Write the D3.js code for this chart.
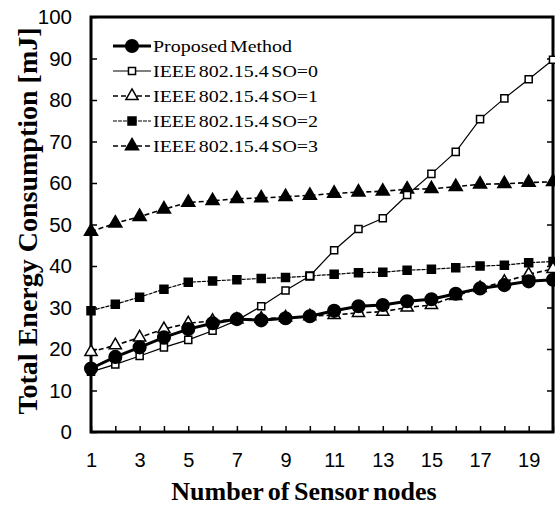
<!DOCTYPE html>
<html>
<head>
<meta charset="utf-8">
<script src="https://cdn.jsdelivr.net/npm/d3@7"></script>
<style>
  body { margin: 0; background: #fff; }
  svg { display: block; font-family: "Liberation Serif", "Times New Roman", serif; }
</style>
</head>
<body>
<svg id="chart" width="555" height="507"></svg>
<script>
// number of sensor nodes
var nodes = d3.range(1, 21);

// energy values (mJ)
var proposed = [15.3, 18.1, 20.4, 22.8, 24.8, 26.2, 27.2, 26.9, 27.4, 27.9, 29.2, 30.3, 30.6, 31.5, 32.0, 33.3, 34.6, 35.4, 36.3, 36.7];
var so0 = [14.5, 16.3, 18.3, 20.4, 22.2, 24.4, 26.9, 30.3, 34.1, 37.6, 43.8, 48.9, 51.5, 57.1, 62.2, 67.5, 75.4, 80.4, 85.0, 89.7];
var so1 = [19.3, 20.9, 22.8, 24.8, 26.2, 26.8, 27.1, 27.3, 27.6, 27.9, 28.2, 28.7, 29.0, 30.0, 30.6, 32.8, 34.7, 36.2, 38.0, 39.3];
var so2 = [29.2, 30.8, 32.5, 34.4, 36.1, 36.4, 36.7, 37.0, 37.2, 37.6, 38.0, 38.4, 38.5, 39.0, 39.2, 39.6, 40.0, 40.2, 40.8, 41.1];
var so3 = [48.3, 50.3, 51.9, 53.7, 55.3, 55.7, 56.2, 56.4, 56.7, 57.0, 57.5, 57.8, 58.0, 58.5, 58.6, 59.1, 59.7, 59.8, 60.1, 60.3];

var seriesNames = ["Proposed Method", "IEEE 802.15.4 SO=0", "IEEE 802.15.4 SO=1", "IEEE 802.15.4 SO=2", "IEEE 802.15.4 SO=3"];
var yTicks = [0, 10, 20, 30, 40, 50, 60, 70, 80, 90, 100];
var xLabels = [1, 3, 5, 7, 9, 11, 13, 15, 17, 19];

var svg = d3.select("#chart");

// plot box (note: "top" is reserved on window, so use plotTop)
var plotLeft = 91, plotRight = 553, plotTop = 17, plotBottom = 432;

var x = d3.scaleLinear().domain([1, 20]).range([plotLeft, plotRight]);
var y = d3.scaleLinear().domain([0, 100]).range([plotBottom, plotTop]);

// style of each series: marker shape, fill, line width, dash
var styles = [
    {data: proposed, symbol: d3.symbolCircle, size: 125, fill: "#000", width: 3, dash: null},
    {data: so0, symbol: d3.symbolSquare, size: 50, fill: "#fff", width: 1.2, dash: null},
    {data: so1, symbol: d3.symbolTriangle, size: 64, fill: "#fff", width: 1.6, dash: "5,3"},
    {data: so2, symbol: d3.symbolSquare, size: 64, fill: "#000", width: 1.2, dash: "4,1"},
    {data: so3, symbol: d3.symbolTriangle, size: 74, fill: "#000", width: 1.6, dash: "5,3"}
];

// y ticks, inside on both sides
var yAxisL = d3.axisLeft(y).tickValues(yTicks).tickSize(-6).tickFormat(d3.format("d")).tickPadding(19);
var gy = svg.append("g").attr("transform", "translate(" + plotLeft + ",0)").call(yAxisL);
gy.select(".domain").remove();
gy.selectAll("line").attr("stroke", "#000").attr("stroke-width", 1.5);
gy.selectAll("text").attr("font-size", 20.5).attr("fill", "#000");

var yAxisR = d3.axisRight(y).tickValues(yTicks.slice(1, 10)).tickSize(-6).tickFormat("");
var gyr = svg.append("g").attr("transform", "translate(" + plotRight + ",0)").call(yAxisR);
gyr.select(".domain").remove();
gyr.selectAll("line").attr("stroke", "#000").attr("stroke-width", 1.5);

// x ticks at every node, labels on odd ones
var xAxis = d3.axisBottom(x).tickValues(nodes).tickSize(-6).tickPadding(21)
    .tickFormat(function(d) { return xLabels.indexOf(d) >= 0 ? d : ""; });
var gx = svg.append("g").attr("transform", "translate(0," + plotBottom + ")").call(xAxis);
gx.select(".domain").remove();
gx.selectAll("line").attr("stroke", "#000").attr("stroke-width", 1.5);
gx.selectAll("text").attr("font-size", 20).attr("fill", "#000");

// frame
svg.append("rect")
    .attr("x", plotLeft).attr("y", plotTop)
    .attr("width", plotRight - plotLeft).attr("height", plotBottom - plotTop)
    .attr("fill", "none").attr("stroke", "#000").attr("stroke-width", 3);

var line = d3.line()
    .x(function(d, i) { return x(nodes[i]); })
    .y(function(d) { return y(d); });

// draw back to front so the proposed method sits on top
[4, 3, 1, 2, 0].forEach(function(k) {
    var s = styles[k];
    var g = svg.append("g");
    g.append("path")
        .attr("d", line(s.data))
        .attr("fill", "none")
        .attr("stroke", "#000")
        .attr("stroke-width", s.width)
        .attr("stroke-dasharray", s.dash);
    g.selectAll("path.mark")
        .data(s.data)
        .enter().append("path")
        .attr("class", "mark")
        .attr("d", d3.symbol().type(s.symbol).size(s.size))
        .attr("transform", function(d, i) { return "translate(" + x(nodes[i]) + "," + y(d) + ")"; })
        .attr("fill", s.fill)
        .attr("stroke", "#000")
        .attr("stroke-width", 1.5);
});

// legend
var legend = svg.append("g");
styles.forEach(function(s, i) {
    var ly = 46 + i * 25;
    var g = legend.append("g").attr("transform", "translate(0," + ly + ")");
    g.append("line")
        .attr("x1", 113).attr("x2", 151)
        .attr("stroke", "#000")
        .attr("stroke-width", s.width)
        .attr("stroke-dasharray", s.dash);
    g.append("path")
        .attr("d", d3.symbol().type(s.symbol).size(s.size))
        .attr("transform", "translate(132,0)")
        .attr("fill", s.fill)
        .attr("stroke", "#000")
        .attr("stroke-width", 1.5);
    // the source figure is a little stretched sideways
    g.append("text")
        .attr("transform", "translate(153,0) scale(1.14,1)")
        .attr("dy", "0.35em")
        .attr("font-size", 17.5)
        .attr("word-spacing", -2)
        .text(seriesNames[i]);
});

// axis titles
svg.append("text")
    .attr("x", 304).attr("y", 500)
    .attr("text-anchor", "middle")
    .attr("font-size", 26).attr("font-weight", "bold")
    .attr("word-spacing", -2)
    .text("Number of Sensor nodes");

svg.append("text")
    .attr("transform", "translate(37,221) rotate(-90)")
    .attr("text-anchor", "middle")
    .attr("font-size", 28).attr("font-weight", "bold")
    .text("Total Energy Consumption [mJ]");
</script>
</body>
</html>
